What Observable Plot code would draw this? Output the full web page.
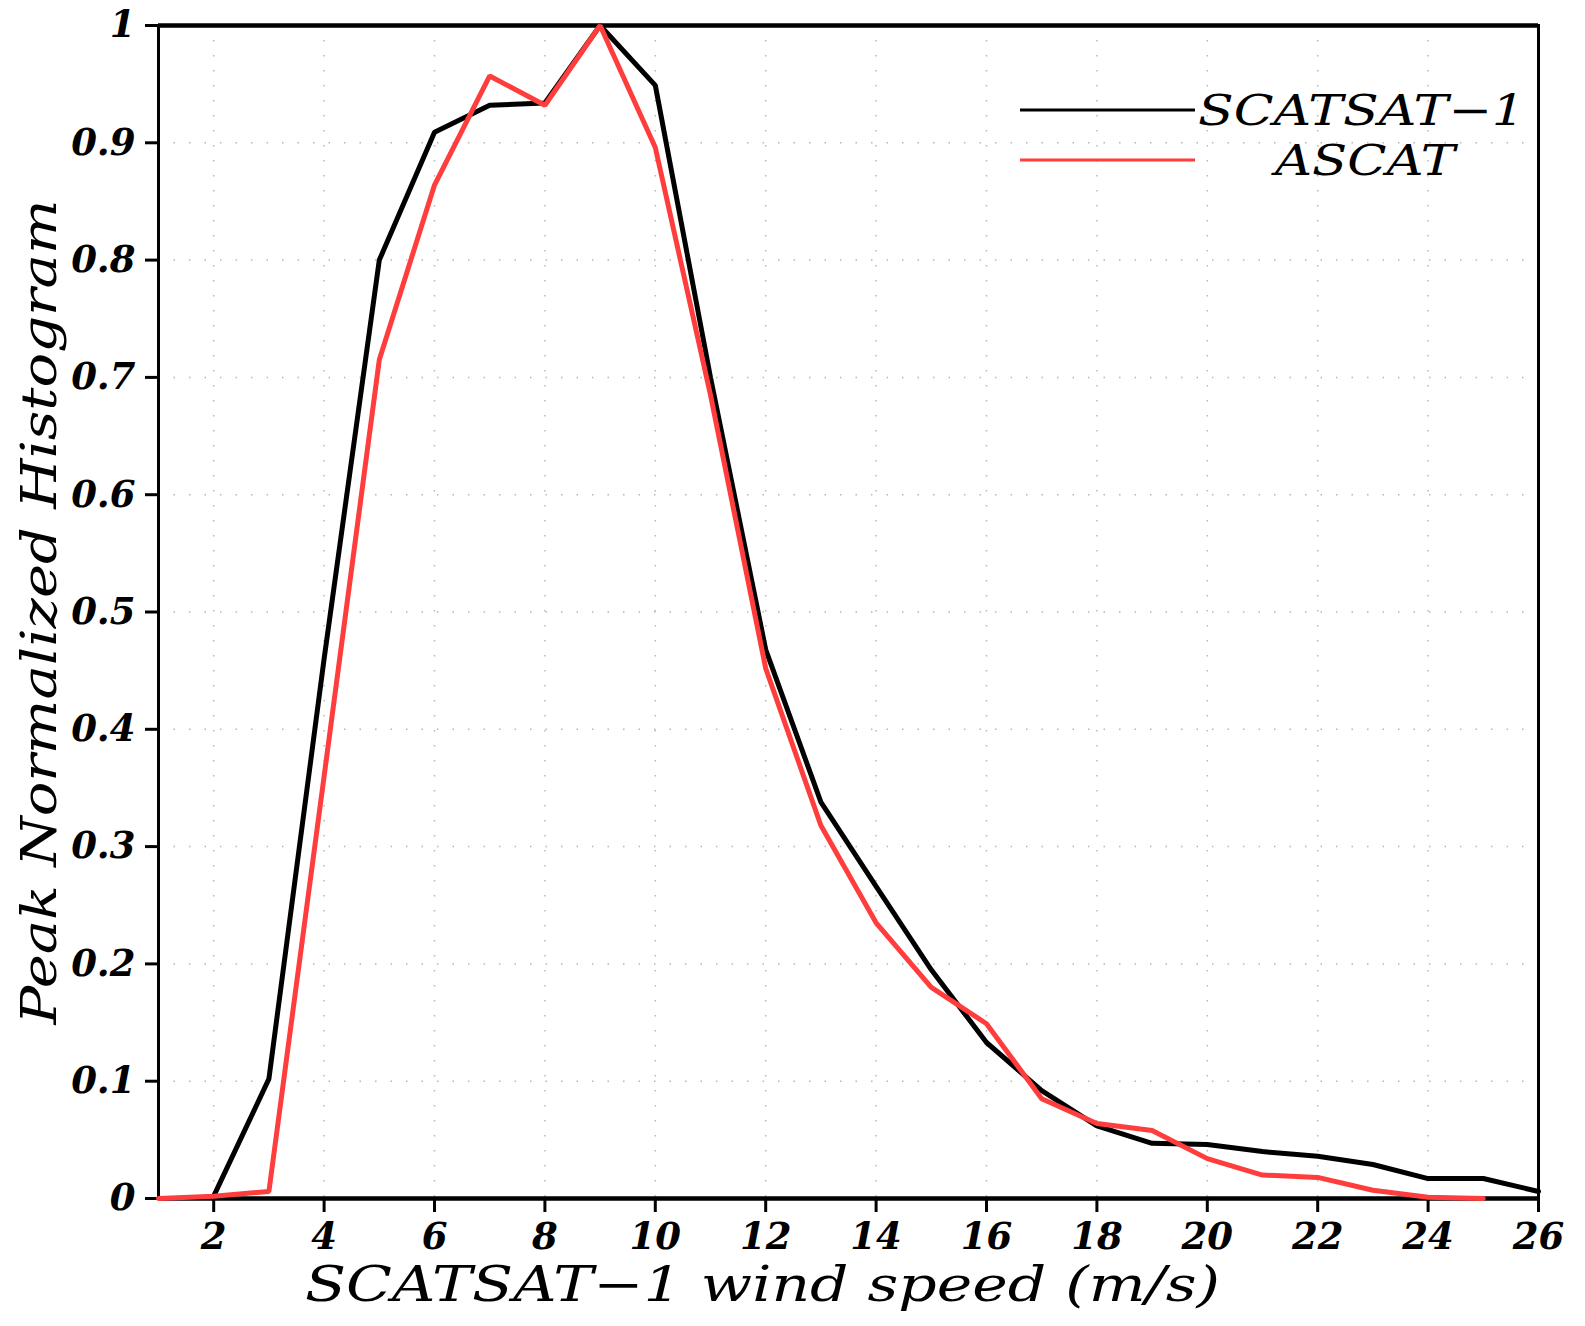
<!DOCTYPE html>
<html>
<head>
<meta charset="utf-8">
<script src="https://cdn.jsdelivr.net/npm/d3@7"></script>
<script src="https://cdn.jsdelivr.net/npm/@observablehq/plot@0.6"></script>
<style>
  html, body { margin: 0; padding: 0; background: #fff; overflow: hidden; }
  #wrap { position: relative; width: 1585px; height: 1326px; overflow: hidden; }
  #wrap svg { display: block; }
  #legend { position: absolute; left: 0; top: 0; }
</style>
</head>
<body>
<div id="wrap"></div>
<script>
// ---- data ----
const scatsatSpeed = [2,3,4,5,6,7,8,9,10,11,12,13,14,15,16,17,18,19,20,21,22,23,24,25,26];
const scatsatHist  = [0.002,0.102,0.46,0.80,0.909,0.932,0.934,1.0,0.949,0.70,0.468,0.338,0.266,0.195,0.133,0.092,0.062,0.047,0.046,0.040,0.036,0.029,0.017,0.017,0.006];
const ascatSpeed = [1,2,3,4,5,6,7,8,9,10,11,12,13,14,15,16,17,18,19,20,21,22,23,24,25];
const ascatHist  = [0,0.002,0.006,0.36,0.715,0.864,0.957,0.932,1.0,0.896,0.685,0.452,0.318,0.235,0.18,0.149,0.085,0.064,0.058,0.034,0.02,0.018,0.007,0.001,0.0];
const xTicks = [2,4,6,8,10,12,14,16,18,20,22,24,26];
const yTicks = [0,0.1,0.2,0.3,0.4,0.5,0.6,0.7,0.8,0.9,1];
const seriesNames = ["SCATSAT\u22121", "ASCAT"];
const seriesColors = ["#000000", "#ff3d3d"];
const xLabel = "SCATSAT\u22121 wind speed (m/s)";
const yLabel = "Peak Normalized Histogram";

const scatsat = scatsatSpeed.map((s, i) => ({speed: s, value: scatsatHist[i]}));
const ascat = ascatSpeed.map((s, i) => ({speed: s, value: ascatHist[i]}));

const tickFont = {fontFamily: "DejaVu Serif", fontSize: 37, fontStyle: "italic", fontWeight: "bold"};

const chart = Plot.plot({
  width: 1585,
  height: 1326,
  marginLeft: 158,
  marginRight: 47,
  marginTop: 25,
  marginBottom: 128,
  style: {background: "#fff", color: "#000", overflow: "visible"},
  x: {domain: [1, 26]},
  y: {domain: [0, 1]},
  marks: [
    Plot.gridX(xTicks, {stroke: "#b8b8b8", strokeOpacity: 1, strokeWidth: 1.5, strokeDasharray: "1.5,13.5"}),
    Plot.gridY(yTicks.slice(1, -1), {stroke: "#b8b8b8", strokeOpacity: 1, strokeWidth: 1.5, strokeDasharray: "1.5,14"}),
    Plot.frame({stroke: "#000", strokeWidth: 3}),
    Plot.ruleY([0, 1], {stroke: "#000", strokeWidth: 4.5}),
    Plot.axisX({ticks: xTicks, tickSize: 14, tickPadding: 10, strokeWidth: 3, tickFormat: d => String(d), label: null, ...tickFont}),
    Plot.axisY({ticks: yTicks, tickSize: 13, tickPadding: 10, strokeWidth: 3, tickFormat: d => String(d), label: null, ...tickFont}),
    Plot.line(scatsat, {x: "speed", y: "value", stroke: seriesColors[0], strokeWidth: 5, strokeLinejoin: "miter"}),
    Plot.line(ascat, {x: "speed", y: "value", stroke: seriesColors[1], strokeWidth: 5, strokeLinejoin: "miter"}),
    Plot.text([xLabel], {frameAnchor: "bottom", textAnchor: "middle", dx: -86, dy: 87, lineAnchor: "middle", fontFamily: "DejaVu Serif", fontSize: 48, fontStyle: "italic", fill: "#000"}),
    Plot.text([yLabel], {frameAnchor: "left", textAnchor: "middle", dx: -118, rotate: -90, lineAnchor: "middle", fontFamily: "DejaVu Serif", fontSize: 48, fontStyle: "italic", fill: "#000"})
  ]
});

// stretch axis titles to the reference widths
const svg = d3.select(chart);
svg.selectAll("text").each(function() {
  const t = d3.select(this);
  const txt = t.text();
  if (txt === xLabel) t.attr("textLength", 915).attr("lengthAdjust", "spacingAndGlyphs");
  if (txt === yLabel) t.attr("textLength", 825).attr("lengthAdjust", "spacingAndGlyphs");
});

document.getElementById("wrap").appendChild(chart);

// legend overlay
const leg = d3.select("#wrap").append("svg")
  .attr("id", "legend").attr("width", 1585).attr("height", 1326);
const legendRows = [
  {name: seriesNames[0], color: seriesColors[0], y: 110, tx: 1198, tl: 327},
  {name: seriesNames[1], color: seriesColors[1], y: 160, tx: 1275, tl: 180}
];
legendRows.forEach(r => {
  leg.append("line").attr("x1", 1020).attr("x2", 1195).attr("y1", r.y).attr("y2", r.y)
    .attr("stroke", r.color).attr("stroke-width", 3);
  leg.append("text").attr("x", r.tx).attr("y", r.y + 15)
    .attr("font-family", "DejaVu Serif").attr("font-style", "italic").attr("font-size", 43)
    .attr("textLength", r.tl).attr("lengthAdjust", "spacingAndGlyphs")
    .text(r.name);
});
</script>
</body>
</html>
